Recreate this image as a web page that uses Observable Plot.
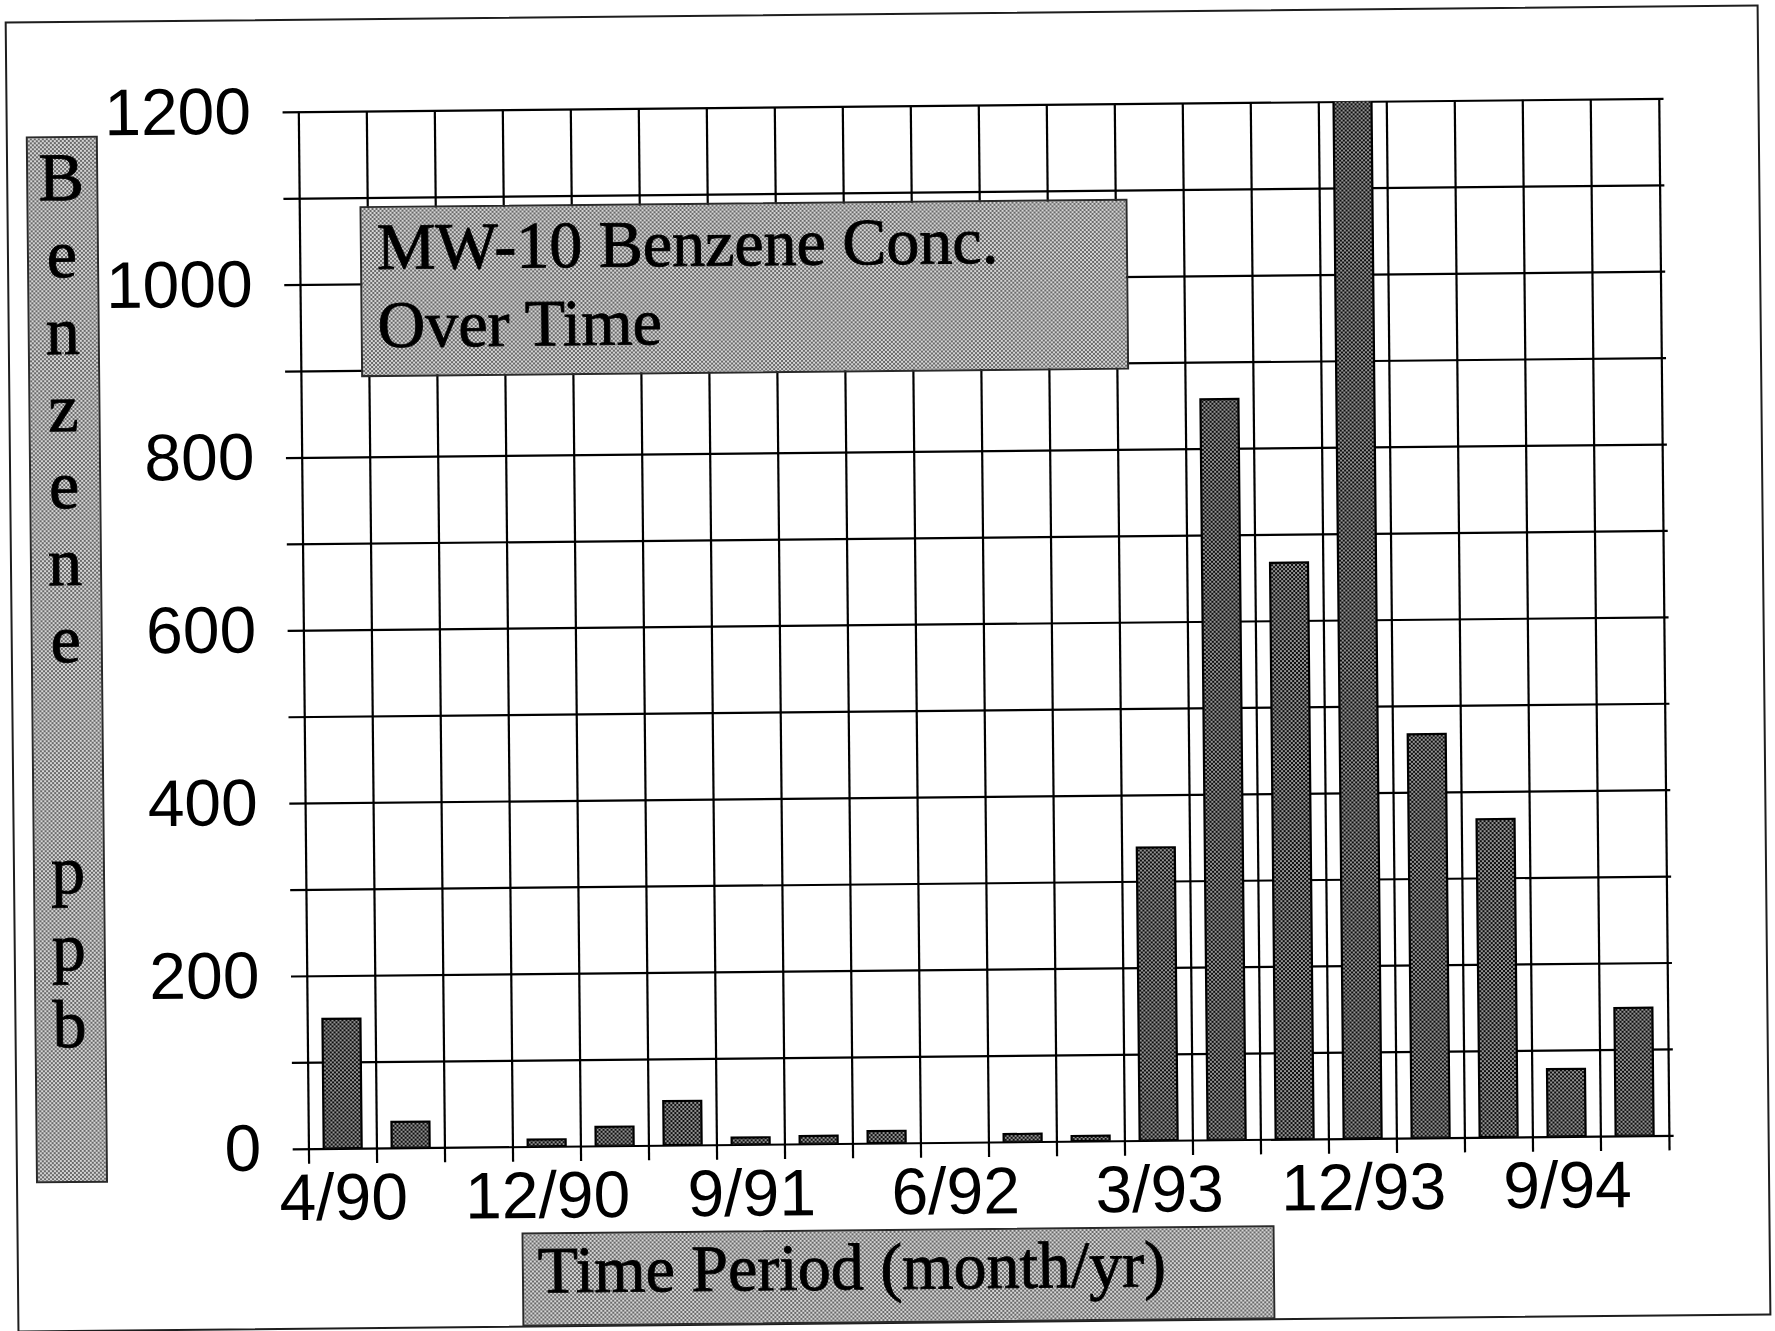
<!DOCTYPE html>
<html>
<head>
<meta charset="utf-8">
<script src="https://cdn.jsdelivr.net/npm/d3@7"></script>
<script src="https://cdn.jsdelivr.net/npm/@observablehq/plot@0.6"></script>
<style>
  html, body { margin: 0; padding: 0; background: #fff; overflow: hidden; }
  #page { position: relative; width: 1775px; height: 1331px; transform: rotate(-0.56deg); transform-origin: 887px 665px; }
  #page > svg { position: absolute; left: 0; top: 0; }
  #border { position: absolute; left: 11px; top: 13px; width: 1754px; height: 1311px; box-sizing: border-box; border: 2px solid #1e1e1e; }
  .box { position: absolute; box-sizing: border-box; border: 2px solid #2a2a2a;
         background: repeating-conic-gradient(#6a6a6a 0% 25%, #d4d4d4 0% 50%) 0 0 / 4px 4px;
         font-family: "Liberation Serif", "Times New Roman", serif; color: #000; font-size: 66px; white-space: pre;
         -webkit-text-stroke: 0.9px #000; }
  #titleBox { left: 364px; top: 201px; width: 768px; height: 171px; line-height: 78px; padding: 0 0 0 15px; }
  #yLabelBox { left: 31px; top: 128px; width: 72px; height: 1047px; line-height: 77px; padding: 1px 2px 0 0; text-align: center; font-size: 68px; }
  #xLabelBox { left: 516px; top: 1229px; width: 753px; height: 94px; line-height: 71px; padding: 0 0 0 14px; }
</style>
</head>
<body>
<div id="page">
  <div id="border"></div>
</div>
<script>
// ---- data ----
const categories = ["4/90","6/90","9/90","12/90","3/91","6/91","9/91","12/91","3/92","6/92",
                    "9/92","12/92","3/93","6/93","9/93","12/93","3/94","6/94","9/94","12/94"];
const benzenePpb = [150, 30, null, 8, 22, 51, 8, 9, 14, null,
                    9, 6, 339, 857, 667, 1250, 467, 368, 78, 148];
const xTickLabels = ["4/90","12/90","9/91","6/92","3/93","12/93","9/94"];
const yTickLabels = [0, 200, 400, 600, 800, 1000, 1200];
const yGridValues = [0, 100, 200, 300, 400, 500, 600, 700, 800, 900, 1000, 1100, 1200];
const titleLines = ["MW-10 Benzene Conc.", "Over Time"];
const yTitle = "Benzene  ppb";
const xTitle = "Time Period (month/yr)";

// ---- layout ----
const W = 1775, H = 1331;
const mL = 299, mR = 106, mT = 106, mB = 188;
const step = (W - mL - mR) / categories.length;

const data = categories.map((c, i) => ({period: c, value: benzenePpb[i]})).filter(d => d.value != null);

const lineStyle = {stroke: "#000", strokeWidth: 2.2};

const chart = Plot.plot({
  width: W, height: H,
  marginLeft: mL, marginRight: mR, marginTop: mT, marginBottom: mB,
  style: {background: "transparent", fontFamily: "'Liberation Sans', Arial, sans-serif", fontSize: "66px", color: "#000", overflow: "visible"},
  x: {type: "band", domain: categories, paddingInner: 0.44, paddingOuter: 0.22},
  y: {domain: [0, 1200]},
  marks: [
    Plot.ruleY(yGridValues, {y: d => d, ...lineStyle, insetLeft: -11}),
    Plot.ruleX(categories, {x: d => d, dx: -step / 2, ...lineStyle, insetBottom: -15}),
    Plot.ruleX(categories.slice(-1), {x: d => d, dx: step / 2, ...lineStyle, insetBottom: -15}),
    Plot.barY(data, {x: "period", y: "value", fill: "url(#benzPat)", stroke: "#000", strokeWidth: 2.2, clip: true}),
    Plot.axisY({ticks: yTickLabels, tickFormat: d => String(d), tickSize: 0, tickPadding: 43, label: null,
                fontSize: 66, fill: "#000", stroke: "#000", strokeWidth: 0.8}),
    Plot.axisX({ticks: xTickLabels, tickSize: 0, tickPadding: 24, label: null,
                fontSize: 66, fill: "#000", stroke: "#000", strokeWidth: 0.8})
  ]
});

const svgEl = chart.tagName.toLowerCase() === "svg" ? chart : chart.querySelector("svg");
const defs = d3.select(svgEl).insert("defs", ":first-child");
const pat = defs.append("pattern").attr("id", "benzPat").attr("patternUnits", "userSpaceOnUse")
  .attr("width", 4).attr("height", 4);
pat.append("rect").attr("width", 4).attr("height", 4).attr("fill", "#939393");
pat.append("rect").attr("width", 2).attr("height", 2).attr("fill", "#0e0e0e");
pat.append("rect").attr("x", 2).attr("y", 2).attr("width", 2).attr("height", 2).attr("fill", "#0e0e0e");

const page = document.getElementById("page");
page.appendChild(chart);

// text boxes
const tb = document.createElement("div");
tb.className = "box"; tb.id = "titleBox";
tb.textContent = titleLines.join("\n");
page.appendChild(tb);

const yb = document.createElement("div");
yb.className = "box"; yb.id = "yLabelBox";
yb.textContent = Array.from(yTitle).join("\n");
page.appendChild(yb);

const xb = document.createElement("div");
xb.className = "box"; xb.id = "xLabelBox";
xb.textContent = xTitle;
page.appendChild(xb);
</script>
</body>
</html>
